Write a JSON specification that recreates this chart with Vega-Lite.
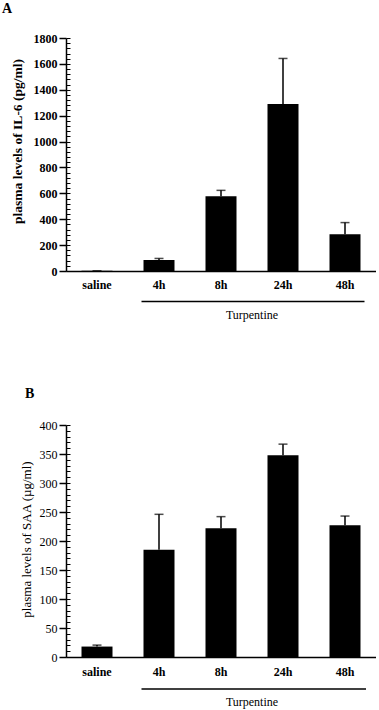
{
  "$schema": "https://vega.github.io/schema/vega-lite/v6.json",
  "background": "white",
  "padding": {"left": 2, "top": 2, "right": 0, "bottom": 2},
  "bounds": "flush",
  "spacing": 154,
  "config": {
    "view": {"stroke": null},
    "font": "Liberation Serif",
    "text": {"font": "Liberation Serif"},
    "axis": {"grid": false, "domainColor": "black", "tickColor": "black", "labelColor": "black", "titleColor": "black", "labelFont": "Liberation Serif", "titleFont": "Liberation Serif"}
  },
  "vconcat": [
    {
      "width": 310,
      "height": 233,
      "title": {"text": "A", "anchor": "start", "frame": "group", "dx": -64, "offset": 16, "fontSize": 14, "font": "Liberation Serif", "fontWeight": "bold", "color": "black"},
      "data": {"values": [
        {"group": "saline", "mean": 2, "hi": 2},
        {"group": "4h", "mean": 85, "hi": 97},
        {"group": "8h", "mean": 577, "hi": 623},
        {"group": "24h", "mean": 1290, "hi": 1642},
        {"group": "48h", "mean": 283, "hi": 374}
      ]},
      "resolve": {"axis": {"y": "independent"}},
      "layer": [
        {
          "mark": {"type": "bar", "color": "black"},
          "encoding": {
            "x": {"field": "group", "type": "nominal", "scale": {"domain": ["saline", "4h", "8h", "24h", "48h"], "paddingInner": 0.5, "paddingOuter": 0.25},
                  "axis": {"title": null, "ticks": false, "labelAngle": 0, "labelPadding": 8, "domainWidth": 1.5, "labelFontSize": 12, "labelFontWeight": "bold"}},
            "y": {"field": "mean", "type": "quantitative", "scale": {"domain": [0, 1800], "nice": false},
                  "axis": {"values": [0, 200, 400, 600, 800, 1000, 1200, 1400, 1600, 1800], "format": "d", "tickSize": 7, "tickWidth": 1.5, "domainWidth": 1.5, "labelPadding": 2, "labelFontSize": 12, "labelFontWeight": "bold", "title": "plasma levels of IL-6 (pg/ml)", "titleFontSize": 13.5, "titleFontWeight": "bold", "titlePadding": 9, "titleY": 103}}
          }
        },
        {
          "mark": {"type": "tick", "color": "black", "thickness": 1.5, "size": 9},
          "encoding": {
            "x": {"field": "group", "type": "nominal"},
            "y": {"field": "hi", "type": "quantitative", "scale": {"domain": [0, 1800], "nice": false},
                  "axis": {"orient": "right", "offset": -310, "values": [0, 40, 80, 120, 160, 200, 240, 280, 320, 360, 400, 440, 480, 520, 560, 600, 640, 680, 720, 760, 800, 840, 880, 920, 960, 1000, 1040, 1080, 1120, 1160, 1200, 1240, 1280, 1320, 1360, 1400, 1440, 1480, 1520, 1560, 1600, 1640, 1680, 1720, 1760, 1800], "labels": false, "domain": false, "ticks": true, "tickSize": 4, "tickWidth": 1, "tickColor": "black", "title": null}}
          }
        },
        {
          "mark": {"type": "rule", "color": "black", "strokeWidth": 1.5},
          "encoding": {
            "x": {"field": "group", "type": "nominal"},
            "y": {"field": "mean", "type": "quantitative", "scale": {"domain": [0, 1800], "nice": false}, "axis": null},
            "y2": {"field": "hi"}
          }
        },
        {
          "data": {"values": [{"label": "Turpentine"}]},
          "mark": {"type": "rule", "color": "black", "strokeWidth": 1.5, "xOffset": -17.5, "x2Offset": 19.5, "yOffset": 30.5},
          "encoding": {
            "x": {"datum": "4h"},
            "x2": {"datum": "48h"},
            "y": {"datum": 0, "type": "quantitative", "scale": {"domain": [0, 1800], "nice": false}, "axis": null}
          }
        },
        {
          "data": {"values": [{"label": "Turpentine"}]},
          "mark": {"type": "text", "color": "black", "font": "Liberation Serif", "fontSize": 12, "dx": 31, "dy": 44, "baseline": "middle"},
          "encoding": {
            "x": {"datum": "8h"},
            "y": {"datum": 0, "type": "quantitative", "scale": {"domain": [0, 1800], "nice": false}, "axis": null},
            "text": {"field": "label"}
          }
        }
      ]
    },
    {
      "width": 310,
      "height": 232,
      "title": {"text": "B", "anchor": "start", "frame": "group", "dx": -41, "offset": 18, "fontSize": 14, "font": "Liberation Serif", "fontWeight": "bold", "color": "black"},
      "data": {"values": [
        {"group": "saline", "mean": 18, "hi": 20.5},
        {"group": "4h", "mean": 185, "hi": 246},
        {"group": "8h", "mean": 222, "hi": 242},
        {"group": "24h", "mean": 348, "hi": 367},
        {"group": "48h", "mean": 227, "hi": 243}
      ]},
      "resolve": {"axis": {"y": "independent"}},
      "layer": [
        {
          "mark": {"type": "bar", "color": "black"},
          "encoding": {
            "x": {"field": "group", "type": "nominal", "scale": {"domain": ["saline", "4h", "8h", "24h", "48h"], "paddingInner": 0.5, "paddingOuter": 0.25},
                  "axis": {"title": null, "ticks": false, "labelAngle": 0, "labelPadding": 9, "domainWidth": 1.5, "labelFontSize": 12, "labelFontWeight": "bold"}},
            "y": {"field": "mean", "type": "quantitative", "scale": {"domain": [0, 400], "nice": false},
                  "axis": {"values": [0, 50, 100, 150, 200, 250, 300, 350, 400], "format": "d", "tickSize": 7, "tickWidth": 1.5, "domainWidth": 1.5, "labelPadding": 2, "labelFontSize": 12, "title": "plasma levels of SAA (µg/ml)", "titleFontSize": 13, "titleFontWeight": "normal", "titlePadding": 6, "titleY": 114}}
          }
        },
        {
          "mark": {"type": "tick", "color": "black", "thickness": 1.5, "size": 9},
          "encoding": {
            "x": {"field": "group", "type": "nominal"},
            "y": {"field": "hi", "type": "quantitative", "scale": {"domain": [0, 400], "nice": false},
                  "axis": {"orient": "right", "offset": -310, "values": [0, 10, 20, 30, 40, 50, 60, 70, 80, 90, 100, 110, 120, 130, 140, 150, 160, 170, 180, 190, 200, 210, 220, 230, 240, 250, 260, 270, 280, 290, 300, 310, 320, 330, 340, 350, 360, 370, 380, 390, 400], "labels": false, "domain": false, "ticks": true, "tickSize": 4, "tickWidth": 1, "tickColor": "black", "title": null}}
          }
        },
        {
          "mark": {"type": "rule", "color": "black", "strokeWidth": 1.5},
          "encoding": {
            "x": {"field": "group", "type": "nominal"},
            "y": {"field": "mean", "type": "quantitative", "scale": {"domain": [0, 400], "nice": false}, "axis": null},
            "y2": {"field": "hi"}
          }
        },
        {
          "data": {"values": [{"label": "Turpentine"}]},
          "mark": {"type": "rule", "color": "black", "strokeWidth": 1.5, "xOffset": -17.5, "x2Offset": 21, "yOffset": 32},
          "encoding": {
            "x": {"datum": "4h"},
            "x2": {"datum": "48h"},
            "y": {"datum": 0, "type": "quantitative", "scale": {"domain": [0, 400], "nice": false}, "axis": null}
          }
        },
        {
          "data": {"values": [{"label": "Turpentine"}]},
          "mark": {"type": "text", "color": "black", "font": "Liberation Serif", "fontSize": 12, "dx": 31, "dy": 44.5, "baseline": "middle"},
          "encoding": {
            "x": {"datum": "8h"},
            "y": {"datum": 0, "type": "quantitative", "scale": {"domain": [0, 400], "nice": false}, "axis": null},
            "text": {"field": "label"}
          }
        }
      ]
    }
  ]
}
